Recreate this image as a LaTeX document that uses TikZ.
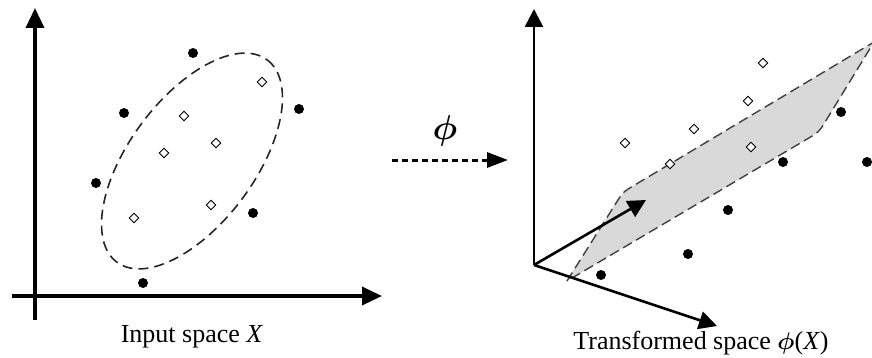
\documentclass[tikz,border=0pt]{standalone}
\usepackage{bm}
\usepackage{fontspec}
\setmainfont{Liberation Serif}
\usetikzlibrary{arrows.meta,shapes.geometric,calc}
\begin{document}
\begin{tikzpicture}[x=0.5pt,y=-0.5pt,
  axisL/.style={line width=1.7pt,-{Triangle[length=10pt,width=9pt]}},
  axisR/.style={line width=1.3pt,-{Triangle[length=9pt,width=9pt]}},
  dot/.style={circle,fill=black,inner sep=0pt,minimum size=5pt},
  wdia/.style={diamond,draw=black,fill=white,line width=0.45pt,inner sep=0pt,minimum size=5pt},
  lbl/.style={font=\fontsize{13}{15}\selectfont,anchor=base,inner sep=0pt},
  ell/.style={draw=black!85,line width=0.8pt,dash pattern=on 5pt off 3pt},
  plane/.style={draw=black!75,fill=black!15,line width=0.7pt,dash pattern=on 5pt off 2.5pt}]
\useasboundingbox (0,0) rectangle (872,358);
\clip (0,0) rectangle (872,358);

% ---------- Left: input space ----------
\coordinate (lxs) at (12,296);
\coordinate (lxe) at (382,296);
\coordinate (lys) at (35,320);
\coordinate (lye) at (35,8);
\draw[axisL] (lxs) -- (lxe);
\draw[axisL] (lys) -- (lye);

\begin{scope}[shift={(192,161)},rotate=53.4]
  \draw[ell] (0,0) ellipse [x radius=126, y radius=62.8];
\end{scope}

\node[dot] (a1) at (193,53) {};
\node[dot] (a2) at (124,113) {};
\node[dot] (a3) at (299,109) {};
\node[dot] (a4) at (96,183) {};
\node[dot] (a5) at (253,213) {};
\node[dot] (a6) at (143,283) {};

\node[wdia] (b1) at (262,82) {};
\node[wdia] (b2) at (184,116) {};
\node[wdia] (b3) at (216,143) {};
\node[wdia] (b4) at (164,153) {};
\node[wdia] (b5) at (134,218) {};
\node[wdia] (b6) at (211,205) {};

\node[lbl] (lt) at (192,342) {Input space \textit{X}};

% ---------- Mapping arrow ----------
\coordinate (ps) at (392,160);
\coordinate (pe) at (508,160);
\draw[line width=1.5pt,dash pattern=on 3pt off 2pt,-{Triangle[length=10.5pt,width=7.5pt]}] (ps) -- (pe);
\node[font=\fontsize{18}{21}\selectfont,inner sep=0pt] (phi) at (445,131) {$\bm{\phi}$};

% ---------- Right: transformed space ----------
\coordinate (A) at (567,281);
\coordinate (D) at (623,192);
\coordinate (C) at (874,42);
\coordinate (B) at (819,132);
\path[plane] (A) -- ($(D)!7pt!(A)$) .. controls (D) .. ($(D)!7pt!(C)$)
   -- (C) -- ($(B)!7pt!(C)$) .. controls (B) .. ($(B)!7pt!(A)$) -- cycle;

\coordinate (O) at (534,265);
\coordinate (ry) at (534,9);
\coordinate (ru) at (646,200);
\coordinate (rd) at (717,326);
\draw[axisR] (O) -- (ry);
\draw[axisR] (O) -- (ru);
\draw[axisR] (O) -- (rd);

\node[wdia] (c1) at (763,63) {};
\node[wdia] (c2) at (748,101) {};
\node[wdia] (c3) at (694,129) {};
\node[wdia] (c4) at (625,143) {};
\node[wdia] (c5) at (751,147) {};
\node[wdia] (c6) at (670,164) {};

\node[dot] (e1) at (841,112) {};
\node[dot] (e2) at (783,162) {};
\node[dot] (e3) at (867,162) {};
\node[dot] (e4) at (728,210) {};
\node[dot] (e5) at (688,254) {};
\node[dot] (e6) at (601,275) {};

\node[lbl] (rt) at (701,349) {Transformed space $\bm{\phi}$(\textit{X})};
\end{tikzpicture}
\end{document}
